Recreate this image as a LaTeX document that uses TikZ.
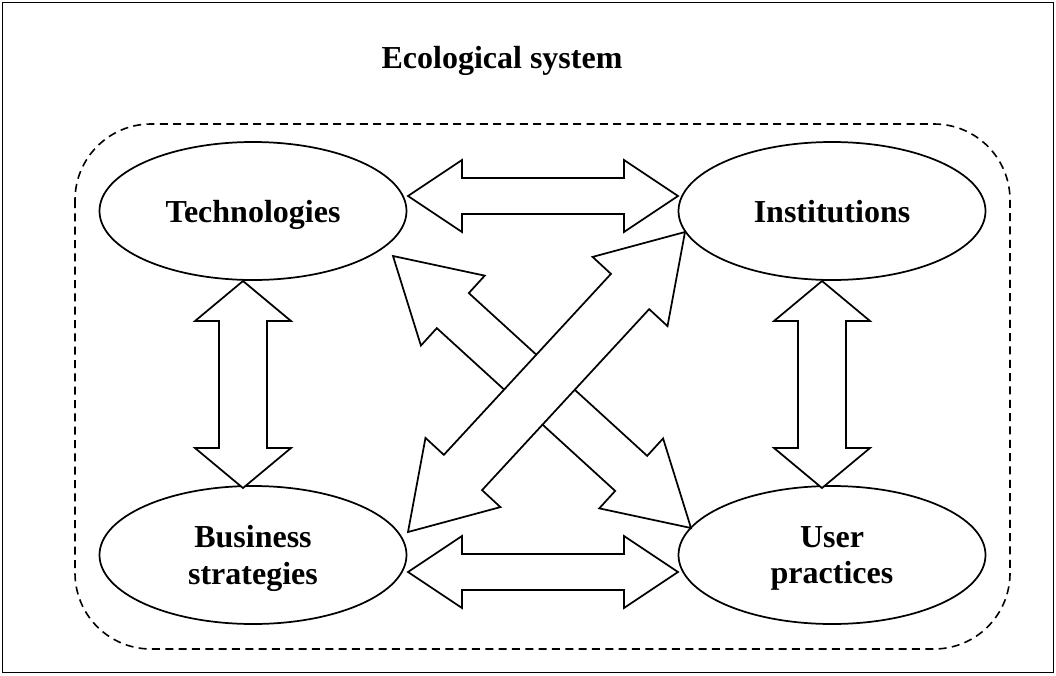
\documentclass[tikz,border=0pt]{standalone}
\usepackage{fontspec}
\setmainfont{Liberation Serif}
\usetikzlibrary{calc,shapes.geometric}
\tikzset{
  boxline/.style={line width=1.3pt},
  sysbox/.style={line width=1.2pt, dash pattern=on 6pt off 4pt, rounded corners=57pt},
  element/.style={ellipse, draw, line width=1.3pt, fill=white, minimum width=230.25pt,
     minimum height=103.5pt, inner sep=0pt, align=center, text depth=0pt,
     font=\fontsize{24}{27.6}\selectfont\bfseries},
  titletext/.style={font=\fontsize{24}{27.6}\selectfont\bfseries, inner sep=0pt},
  blockarrow/.style={draw, line width=1.3pt, fill=white, line join=miter}
}
% #1 tip A, #2 tip B, #3 shaft half width, #4 head half width, #5 head length
\newcommand{\myblockarrow}[5]{%
  \coordinate (#1h) at ($(#1)!#5!(#2)$);
  \coordinate (#2h) at ($(#2)!#5!(#1)$);
  \draw[blockarrow] (#1)
    -- ($(#1h)!#4!90:(#2)$)
    -- ($(#1h)!#3!90:(#2)$)
    -- ($(#2h)!#3!-90:(#1)$)
    -- ($(#2h)!#4!-90:(#1)$)
    -- (#2)
    -- ($(#2h)!#4!90:(#1)$)
    -- ($(#2h)!#3!90:(#1)$)
    -- ($(#1h)!#3!-90:(#2)$)
    -- ($(#1h)!#4!-90:(#2)$)
    -- cycle;
}
\begin{document}
\begin{tikzpicture}[x=0.75pt,y=-0.75pt]
\useasboundingbox (0,0) rectangle (1056,675);
\draw[boxline] (2.5,2.5) rectangle (1053.5,672.5);
\node[titletext, anchor=base] (title) at (502,68) {Ecological system};
\draw[sysbox] (75,124) rectangle (1010,649);

\node[element] (tech) at (253,211) {Technologies};
\node[element] (inst) at (832,211) {Institutions};
\node[element] (bus) at (253,555) {Business\\strategies};
\node[element] (user) at (832,555) {User\\practices};

% arrow tips (free ends on ellipse borders)
\coordinate (th1) at (408,196);
\coordinate (th2) at (678,196);
\coordinate (bh1) at (408,572);
\coordinate (bh2) at (678,572);
\coordinate (lv1) at (243,281);
\coordinate (lv2) at (243,488);
\coordinate (rv1) at (822,281);
\coordinate (rv2) at (822,488);
\coordinate (da1) at (393,256);
\coordinate (da2) at (691,528);
\coordinate (db1) at (408,532);
\coordinate (db2) at (685,232);

\myblockarrow{th1}{th2}{13.5pt}{27pt}{40.5pt}
\myblockarrow{bh1}{bh2}{13.5pt}{27pt}{40.5pt}
\myblockarrow{lv1}{lv2}{18pt}{36pt}{30pt}
\myblockarrow{rv1}{rv2}{18pt}{36pt}{30pt}
\myblockarrow{da1}{da2}{17.8pt}{35.5pt}{60.75pt}
\myblockarrow{db1}{db2}{19.5pt}{38.25pt}{60.75pt}
\end{tikzpicture}
\end{document}
